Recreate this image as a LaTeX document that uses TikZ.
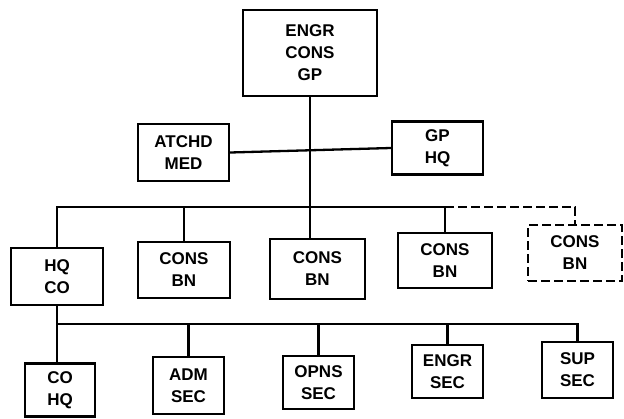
\documentclass[tikz,border=0pt]{standalone}
\usepackage{fontspec}
\setmainfont{Liberation Sans}
\begin{document}
\begin{tikzpicture}[x=1pt,y=-1pt,
  orgbox/.style={draw, line width=2.3pt, inner sep=0pt, align=center,
    font=\fontsize{17}{22}\selectfont\bfseries},
  link/.style={line width=2.3pt},
  dlink/.style={line width=2.3pt, dash pattern=on 9pt off 4pt}]
\useasboundingbox[fill=white] (0,0) rectangle (624,418);
% level 1
\node[orgbox, minimum width=134pt, minimum height=86pt] (top) at (310,53) {ENGR\\CONS\\GP};
% level 2
\node[orgbox, minimum width=91pt, minimum height=57pt] (atchd) at (183.5,152.5) {ATCHD\\MED};
\node[orgbox, minimum width=91pt, minimum height=53pt] (gphq) at (437.5,148) {GP\\HQ};
% level 3
\node[orgbox, minimum width=92pt, minimum height=57pt] (hqco) at (57,276.5) {HQ\\CO};
\node[orgbox, minimum width=92pt, minimum height=56pt] (bn1) at (184,270) {CONS\\BN};
\node[orgbox, minimum width=95pt, minimum height=60pt] (bn2) at (317.5,269) {CONS\\BN};
\node[orgbox, minimum width=94pt, minimum height=55pt] (bn3) at (445,260.5) {CONS\\BN};
\node[orgbox, dash pattern=on 9pt off 4pt, minimum width=94pt, minimum height=56pt] (bn4) at (575,253) {CONS\\BN};
% level 4
\node[orgbox, minimum width=70pt, minimum height=53pt] (cohq) at (60,390) {CO\\HQ};
\node[orgbox, minimum width=71pt, minimum height=57pt] (adm) at (188.5,385.5) {ADM\\SEC};
\node[orgbox, minimum width=71pt, minimum height=53pt] (opns) at (318.5,382.5) {OPNS\\SEC};
\node[orgbox, minimum width=71pt, minimum height=53pt] (engr) at (447.5,371.5) {ENGR\\SEC};
\node[orgbox, minimum width=71pt, minimum height=56pt] (sup) at (577.5,370) {SUP\\SEC};
% bus levels
\coordinate (bus2) at (0,207);
\coordinate (bus3) at (0,324);
% connectors
\draw[link] (top.south) -- (top.south |- bn2.north);
\draw[link] (atchd.east) -- (gphq.west);
\draw[link] (hqco.north) -- (hqco.north |- bus2) -- (bn3.north |- bus2) -- (bn3.north);
\draw[link] (bn1.north) -- (bn1.north |- bus2);
\draw[dlink] (bn3.north |- bus2) -- (bn4.north |- bus2) -- (bn4.north);
\draw[link] (hqco.south) -- (hqco.south |- cohq.north);
\draw[link] (hqco.south |- bus3) -- (sup.north |- bus3) -- (sup.north);
\draw[link] (adm.north) -- (adm.north |- bus3);
\draw[link] (opns.north) -- (opns.north |- bus3);
\draw[link] (engr.north) -- (engr.north |- bus3);
\end{tikzpicture}
\end{document}
